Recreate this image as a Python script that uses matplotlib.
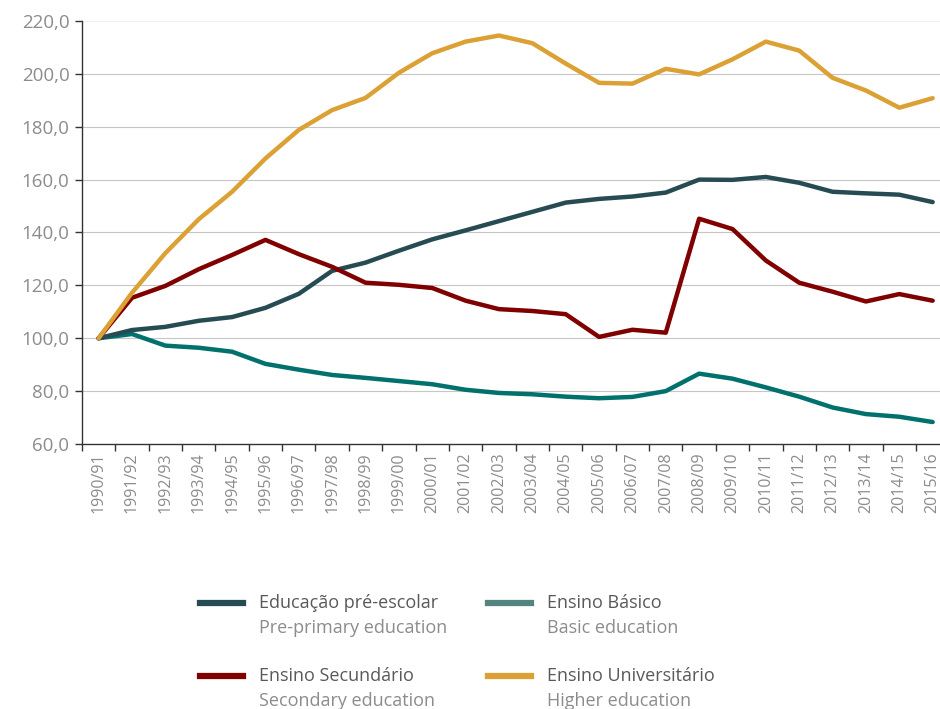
import numpy as np
import matplotlib
matplotlib.use('Agg')
import matplotlib.pyplot as plt
from matplotlib.lines import Line2D

plt.rcParams['font.family'] = ['Open Sans', 'DejaVu Sans']

# Anos letivos
anos = ['1990/91', '1991/92', '1992/93', '1993/94', '1994/95', '1995/96', '1996/97',
        '1997/98', '1998/99', '1999/00', '2000/01', '2001/02', '2002/03', '2003/04',
        '2004/05', '2005/06', '2006/07', '2007/08', '2008/09', '2009/10', '2010/11',
        '2011/12', '2012/13', '2013/14', '2014/15', '2015/16']

# Indices (1990/91 = 100)
pre_escolar = [100.0, 103.1, 104.3, 106.6, 108.0, 111.5, 116.8, 125.5, 128.6, 133.1,
               137.4, 140.8, 144.3, 147.8, 151.3, 152.7, 153.6, 155.1, 160.0, 159.9,
               161.0, 158.8, 155.4, 154.8, 154.3, 151.5]
basico = [100.0, 101.6, 97.2, 96.4, 94.9, 90.3, 88.1, 86.1, 85.0, 83.8,
          82.6, 80.5, 79.3, 78.8, 77.9, 77.3, 77.8, 80.0, 86.6, 84.7,
          81.4, 77.9, 73.8, 71.3, 70.3, 68.3]
secundario = [100.0, 115.3, 119.8, 126.1, 131.5, 137.2, 131.8, 127.0, 121.0, 120.2,
              119.0, 114.2, 111.0, 110.3, 109.1, 100.5, 103.2, 102.1, 145.2, 141.3,
              129.4, 121.0, 117.6, 113.9, 116.7, 114.2]
universitario = [100.0, 117.2, 132.2, 145.0, 155.4, 168.0, 178.8, 186.3, 190.9, 200.4,
                 207.8, 212.2, 214.5, 211.6, 203.9, 196.6, 196.3, 201.9, 199.8, 205.5,
                 212.2, 208.8, 198.5, 193.7, 187.2, 190.8]

series = [
    ('Educação pré-escolar', 'Pre-primary education', pre_escolar, '#264B53', '#264B53'),
    ('Ensino Básico', 'Basic education', basico, '#00716C', '#55847F'),
    ('Ensino Secundário', 'Secondary education', secundario, '#800000', '#800000'),
    ('Ensino Universitário', 'Higher education', universitario, '#DBA135', '#DBA135'),
]

fig = plt.figure(figsize=(9.4, 7.09), dpi=100)
ax = fig.add_axes([0.0872, 0.3738, 0.9128, 0.5966])

x = np.arange(len(anos))
# ordem de desenho: universitario por cima
for nome, nome_en, valores, cor, _ in [series[1], series[0], series[2], series[3]]:
    ax.plot(x, valores, color=cor, linewidth=3.2, solid_capstyle='round',
            solid_joinstyle='round', zorder=3)

ax.set_ylim(60, 220)
ax.set_xlim(-0.5, 25.22)
ax.set_yticks(np.arange(60, 221, 20))
ax.set_yticklabels([f'{v:.1f}'.replace('.', ',') for v in np.arange(60, 221, 20)])

# grelha horizontal
for v in np.arange(80, 201, 20):
    ax.axhline(v, color='#C6C6C6', linewidth=0.8, zorder=1)
ax.axhline(220, color='#F2F2F2', linewidth=0.8, zorder=1)

# ticks do eixo x nas fronteiras das categorias, rotulos no centro
ax.set_xticks(np.arange(-0.5, 25.5, 1.0))
ax.set_xticklabels([])
ax.set_xticks(x, minor=True)
ax.set_xticklabels(anos, minor=True, rotation=90, fontsize=11.5, color='#8C8C8C')
ax.tick_params(axis='x', which='minor', length=0, pad=6)
ax.tick_params(axis='x', which='major', length=5, width=1, color='#333333', direction='out')
ax.tick_params(axis='y', length=5, width=1, color='#333333', labelsize=13.5,
               labelcolor='#8C8C8C', pad=4)

for s in ['top', 'right']:
    ax.spines[s].set_visible(False)
for s in ['left', 'bottom']:
    ax.spines[s].set_color('#333333')
    ax.spines[s].set_linewidth(1.0)

# legenda manual em duas colunas
W, H = 940, 709
posicoes = [(200, 603), (488, 603), (200, 676), (488, 676)]
for (px, py), (nome, nome_en, _, _, cor_leg) in zip(posicoes, series):
    fig.add_artist(Line2D([px / W, (px + 43) / W], [1 - py / H, 1 - py / H],
                          color=cor_leg, linewidth=4.5, transform=fig.transFigure))
    fig.text((px + 59) / W, 1 - py / H, nome, fontsize=13, color='#595959',
             va='center', ha='left')
    fig.text((px + 59) / W, 1 - (py + 25) / H, nome_en, fontsize=13, color='#8C8C8C',
             va='center', ha='left')

fig.savefig('out.png', dpi=100)
